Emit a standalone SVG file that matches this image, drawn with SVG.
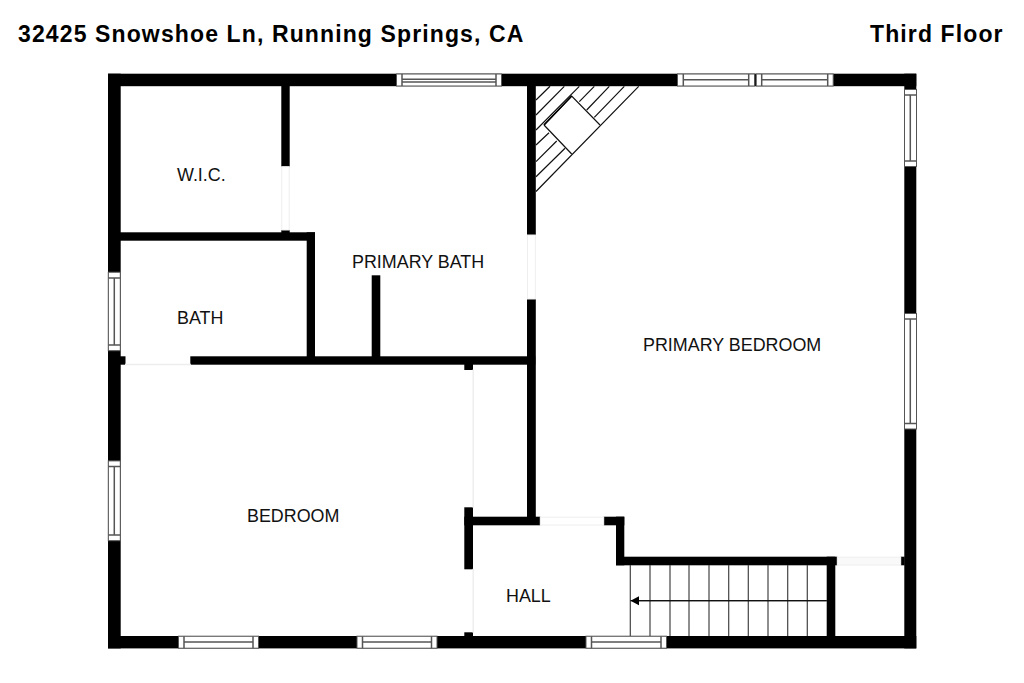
<svg xmlns="http://www.w3.org/2000/svg" width="1024" height="683" viewBox="0 0 1024 683">
<style>
.wall{fill:#000}
.door{fill:#fff;stroke:#eeeeee;stroke-width:1}
.win{fill:#fff;stroke:#555;stroke-width:1}
.rail{fill:none;stroke:#555;stroke-width:1.5}
.st{fill:none;stroke:#444;stroke-width:1.2}
.st2{fill:none;stroke:#111;stroke-width:1.2}
.title{font-family:"Liberation Sans",Arial,sans-serif;font-weight:700;font-size:23px;letter-spacing:1.12px;fill:#000}
.room{font-family:"Liberation Sans",Arial,sans-serif;font-size:17.9px;fill:#111}
</style>
<defs>
<marker id="ah" markerUnits="userSpaceOnUse" markerWidth="9" markerHeight="10" refX="0" refY="5" orient="auto"><path d="M8.500,5L0,.5V9.500Z" fill="#000"/></marker>
</defs>
<rect width="1024" height="683" fill="#fff"/>
<g id="walls">
<rect class="wall" x="108" y="73.700" width="808.300" height="12.500"/>
<rect class="wall" x="108" y="636" width="808.300" height="12.400"/>
<rect class="wall" x="108" y="73.700" width="12.700" height="574.700"/>
<rect class="wall" x="904.300" y="73.700" width="12" height="574.700"/>
<rect class="wall" x="281.300" y="86" width="8.400" height="80.700"/>
<rect class="wall" x="120" y="232.300" width="195" height="8.400"/>
<rect class="wall" x="281.300" y="230" width="8.400" height="3"/>
<rect class="wall" x="306.700" y="232.300" width="8.300" height="128"/>
<rect class="wall" x="190.300" y="356.300" width="345" height="8.400"/>
<rect class="wall" x="120" y="356.300" width="5.500" height="8.400"/>
<rect class="wall" x="371.700" y="275.300" width="8.600" height="85"/>
<rect class="wall" x="527" y="86" width="8.800" height="149"/>
<rect class="wall" x="527" y="299" width="8.800" height="226"/>
<rect class="wall" x="464.300" y="364" width="8.700" height="6"/>
<rect class="wall" x="464.300" y="507.300" width="8.700" height="62"/>
<rect class="wall" x="464.300" y="632.300" width="8.700" height="4"/>
<rect class="wall" x="464.300" y="516.700" width="76" height="8.600"/>
<rect class="wall" x="603.700" y="516.700" width="20.600" height="8.600"/>
<rect class="wall" x="616" y="516.700" width="8.300" height="48.600"/>
<rect class="wall" x="616" y="556.700" width="221.300" height="8.600"/>
<rect class="wall" x="826.700" y="556.700" width="8.600" height="80"/>
<rect class="wall" x="900.700" y="556.700" width="4" height="8.600"/>
</g>
<g id="doors">
<rect class="door" x="281.800" y="166.700" width="7.400" height="63.300"/>
<rect class="door" x="527.500" y="235" width="7.800" height="64"/>
<rect class="door" x="125.500" y="364.200" width="64.800" height="0.600"/>
<rect class="door" x="473" y="370" width="0.500" height="137.300"/>
<rect class="door" x="473" y="569.300" width="0.500" height="63"/>
<rect class="door" x="540.300" y="517.200" width="63.400" height="7.800"/>
<rect class="door" x="837.300" y="557.200" width="63.400" height="7.800" style="fill:#f9f9f9"/>
</g>
<g id="windows">
<g id="win-top-1"><rect class="win" x="396.500" y="74" width="105" height="12"/><path class="rail" d="M402 74V86M496 74V86M402 79.300H496M402 82H496"/></g>
<g id="win-top-2"><rect class="win" x="677.500" y="74" width="77" height="12"/><path class="rail" d="M683.300 74V86M748.700 74V86M683.300 79.800H748.700"/></g>
<g id="win-top-3"><rect class="win" x="756.200" y="74" width="77" height="12"/><path class="rail" d="M761.700 74V86M827.700 74V86M761.700 79.800H827.700"/></g>
<g id="win-right-1"><rect class="win" x="904.500" y="89.500" width="12" height="77"/><path class="rail" d="M904.500 95H916.500M904.500 161H916.500M910.300 95V161"/></g>
<g id="win-right-2"><rect class="win" x="904.500" y="313.500" width="12" height="115.500"/><path class="rail" d="M904.500 319H916.500M904.500 423.500H916.500M910.300 319V423.500"/></g>
<g id="win-left-1"><rect class="win" x="108.300" y="272.200" width="12" height="78.500"/><path class="rail" d="M108.300 278H120.300M108.300 345H120.300M114.300 278V345"/></g>
<g id="win-left-2"><rect class="win" x="108.300" y="460.900" width="12" height="79.800"/><path class="rail" d="M108.300 466.500H120.300M108.300 535H120.300M114.300 466.500V535"/></g>
<g id="win-bottom-1"><rect class="win" x="178.500" y="636.200" width="80" height="12"/><path class="rail" d="M184 636.200V648.200M253 636.200V648.200M184 642H253"/></g>
<g id="win-bottom-2"><rect class="win" x="357" y="636.200" width="80" height="12"/><path class="rail" d="M362.500 636.200V648.200M431.500 636.200V648.200M362.500 642H431.500"/></g>
<g id="win-bottom-3"><rect class="win" x="586" y="636.200" width="80.500" height="12"/><path class="rail" d="M591.500 636.200V648.200M661 636.200V648.200M591.500 642H661"/></g>
</g>
<g id="stairs-upper">
<path class="st2" d="M638.700 86.300L536 191.500M550 86.300L536 100M564.300 86.300L536 115M579.300 86.300L536 130M594.300 86.300L579.300 101.700M609.300 86.300L586.700 110M624.300 86.300L594.300 117.300M536 145L549 132.700M536 161.700L556.700 141M536 176.700L565 148.300"/>
<path class="st2" d="M544 125L571.700 96L600 125M544 125L571.700 154"/>
<path d="M544 125L571.700 96" fill="none" stroke="#000" stroke-width="1.500"/>
</g>
<g id="stairs-lower">
<path class="st" d="M630.300 565V636M650 565V636M670 565V636M689 565V636M709 565V636M728.700 565V636M748.300 565V636M768 565V636M787.700 565V636M807.300 565V636"/>
<path class="st2" d="M826.700 600.700H630.500"/>
<path class="st2" d="M826.700 600.700H639" marker-end="url(#ah)"/>
</g>
<g id="labels">
<text class="title" x="18" y="42.300">32425 Snowshoe Ln, Running Springs, CA</text>
<text class="title" x="870" y="42.300">Third Floor</text>
<text class="room" x="177" y="181">W.I.C.</text>
<text class="room" x="352" y="267.500">PRIMARY BATH</text>
<text class="room" x="177" y="323.500">BATH</text>
<text class="room" x="643" y="350.500">PRIMARY BEDROOM</text>
<text class="room" x="247" y="522">BEDROOM</text>
<text class="room" x="506" y="602">HALL</text>
</g>
</svg>
